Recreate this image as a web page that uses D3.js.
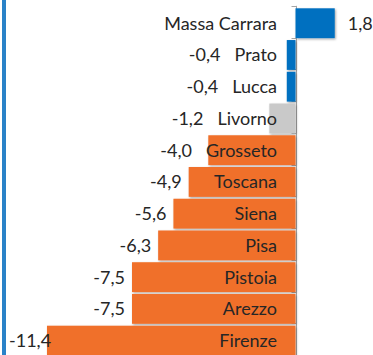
<!DOCTYPE html>
<html>
<head>
<meta charset="utf-8">
<script src="https://cdn.jsdelivr.net/npm/d3@7"></script>
<style>
  html, body { margin: 0; padding: 0; background: #fff; }
  svg { display: block; }
  text { font-family: Lato, "Open Sans", sans-serif; fill: #262626; }
</style>
</head>
<body>
<svg id="chart" width="373" height="355"></svg>
<script>
// Variazione percentuale per provincia (Toscana)
const categories = ["Massa Carrara", "Prato", "Lucca", "Livorno", "Grosseto", "Toscana", "Siena", "Pisa", "Pistoia", "Arezzo", "Firenze"];
const values = [1.8, -0.4, -0.4, -1.2, -4.0, -4.9, -5.6, -6.3, -7.5, -7.5, -11.4];
const groups = ["pos", "small", "small", "grey", "neg", "neg", "neg", "neg", "neg", "neg", "neg"];

const colour = d3.scaleOrdinal()
  .domain(["pos", "small", "grey", "neg"])
  .range(["#0070C0", "#0070C0", "#C9C9C9", "#F0702A"]);

const data = categories.map((c, i) => ({ cat: c, value: values[i], group: groups[i] }));

const svg = d3.select("#chart");
const fmt = d3.formatLocale({ decimal: ",", thousands: ".", grouping: [3], currency: ["", "€"], minus: "-" }).format(".1f");

const x = d3.scaleLinear().domain([-12, 2]).range([33.9, 339.1]);
const y = d3.scaleBand().domain(categories).range([7.35, 356.5]).paddingInner(0.06).paddingOuter(0.03);
const fontSize = 18;

// frame line on the left
svg.append("rect").attr("x", 2).attr("y", 0).attr("width", 4).attr("height", 355).attr("fill", "#2A82C8");

// soft shadow under the bars
const defs = svg.append("defs");
const f = defs.append("filter").attr("id", "sh").attr("x", "-10%").attr("y", "-10%").attr("width", "130%").attr("height", "140%");
f.append("feDropShadow").attr("dx", 1).attr("dy", 1.2).attr("stdDeviation", 0.8).attr("flood-color", "#000").attr("flood-opacity", 0.35);

// category axis with tick marks at band boundaries
const x0 = Math.round(x(0)) + 0.5;
const step = y.step();
const axisG = svg.append("g");
axisG.append("line").attr("x1", x0).attr("x2", x0).attr("y1", y.range()[0] - 1.5).attr("y2", 355)
  .attr("stroke", "#A6A6A6").attr("stroke-width", 1);
d3.range(categories.length + 1).forEach(i => {
  const yy = Math.round(y.range()[0] - 1.5 + i * step) + 0.5;
  axisG.append("line").attr("x1", x0 - 5).attr("x2", x0).attr("y1", yy).attr("y2", yy)
    .attr("stroke", "#A6A6A6").attr("stroke-width", 1);
});

// bars
svg.append("g").selectAll("rect").data(data).join("rect")
  .attr("x", d => x(Math.min(0, d.value)))
  .attr("width", d => Math.abs(x(d.value) - x(0)))
  .attr("y", d => y(d.cat))
  .attr("height", y.bandwidth())
  .attr("fill", d => colour(d.group))
  .attr("filter", "url(#sh)");

// category labels, right aligned near the axis
const labelX = 277;
const catLabels = svg.append("g").selectAll("text").data(data).join("text")
  .attr("x", labelX)
  .attr("y", d => y(d.cat) + y.bandwidth() / 2)
  .attr("dy", "0.36em")
  .attr("text-anchor", "end")
  .attr("font-size", fontSize)
  .text(d => d.cat);

// value labels: beyond the bar end, clear of the category name, inside the frame
const widths = {};
catLabels.each(function(d) { widths[d.cat] = this.getComputedTextLength(); });
const valLabels = svg.append("g").selectAll("text").data(data).join("text")
  .attr("y", d => y(d.cat) + y.bandwidth() / 2)
  .attr("dy", "0.36em")
  .attr("text-anchor", d => d.value >= 0 ? "start" : "end")
  .attr("font-size", fontSize)
  .text(d => fmt(d.value));
valLabels.each(function(d) {
  const w = this.getComputedTextLength();
  const xx = d.value >= 0
    ? x(d.value) + 13
    : Math.max(9 + w, Math.min(x(d.value) - 7, labelX - widths[d.cat] - 14));
  d3.select(this).attr("x", xx);
});
</script>
</body>
</html>
